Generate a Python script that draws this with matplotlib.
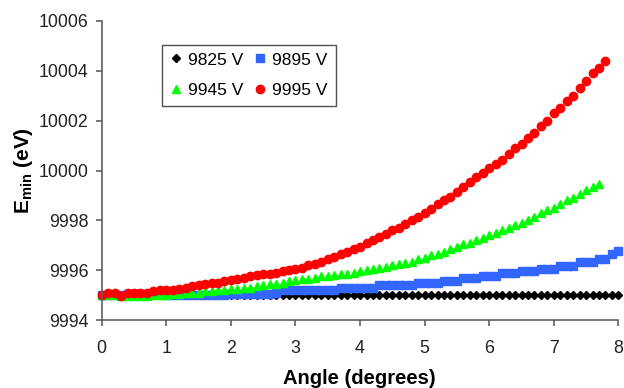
import matplotlib
matplotlib.use("Agg")
import matplotlib.pyplot as plt
import numpy as np

plt.rcParams['font.family'] = ['Liberation Sans', 'DejaVu Sans']
plt.rcParams['mathtext.fontset'] = 'custom'
plt.rcParams['mathtext.rm'] = 'Liberation Sans'
plt.rcParams['mathtext.bf'] = 'Liberation Sans:bold'

# angle grid (degrees), step 0.1
angles = np.round(np.arange(0, 8.05, 0.1), 1)

e_9825 = [9995.0] * 81

e_9895 = ([9995.0] * 4 + [9995.05] * 6 + [9995.0] * 10 + [9995.05] * 7 + [9995.1]
          + [9995.2] * 9 + [9995.3] * 6 + [9995.4] * 6 + [9995.5] * 4
          + [9995.57] * 3 + [9995.68] * 3 + [9995.78] * 3 + [9995.87] * 3
          + [9995.97] * 3 + [9996.06] * 3 + [9996.18] * 3 + [9996.32] * 3
          + [9996.46] * 2 + [9996.65, 9996.78])

e_9945 = [9995.0, 9995.0, 9995.0, 9994.95, 9994.95, 9994.95, 9994.95, 9994.95, 9995.0, 9995.0,
          9995.0, 9995.05, 9995.05, 9995.1, 9995.1, 9995.1, 9995.15, 9995.15, 9995.2, 9995.2,
          9995.25, 9995.25, 9995.3, 9995.3, 9995.35, 9995.4, 9995.45, 9995.45, 9995.5, 9995.55,
          9995.6, 9995.65, 9995.65, 9995.7, 9995.75, 9995.75, 9995.8, 9995.85, 9995.85, 9995.9,
          9995.95, 9996.0, 9996.05, 9996.1, 9996.15, 9996.2, 9996.25, 9996.3, 9996.35, 9996.45,
          9996.5, 9996.6, 9996.65, 9996.75, 9996.85, 9996.95, 9997.05, 9997.1, 9997.2, 9997.3,
          9997.4, 9997.5, 9997.6, 9997.7, 9997.8, 9997.9, 9998.0, 9998.15, 9998.3, 9998.4,
          9998.5, 9998.65, 9998.8, 9998.9, 9999.05, 9999.2, 9999.35, 9999.45]

e_9995 = [9995.0, 9995.1, 9995.1, 9994.95, 9995.1, 9995.1, 9995.1, 9995.1, 9995.15, 9995.2,
          9995.2, 9995.2, 9995.25, 9995.3, 9995.35, 9995.4, 9995.45, 9995.5, 9995.5, 9995.55,
          9995.6, 9995.65, 9995.7, 9995.75, 9995.8, 9995.85, 9995.85, 9995.9, 9995.95, 9996.0,
          9996.05, 9996.1, 9996.2, 9996.25, 9996.35, 9996.45, 9996.55, 9996.65, 9996.75, 9996.85,
          9996.95, 9997.1, 9997.2, 9997.35, 9997.45, 9997.6, 9997.7, 9997.85, 9998.0, 9998.15,
          9998.3, 9998.45, 9998.65, 9998.8, 9998.95, 9999.15, 9999.35, 9999.55, 9999.75, 9999.92,
          10000.1, 10000.28, 10000.42, 10000.68, 10000.9, 10001.08, 10001.3, 10001.5, 10001.8, 10002.0,
          10002.3, 10002.5, 10002.8, 10003.0, 10003.3, 10003.6, 10003.9, 10004.1, 10004.4]

fig = plt.figure(figsize=(6.24, 3.88), dpi=100)
ax = fig.add_axes([0.163, 0.175, 0.828, 0.771])

l1, = ax.plot(angles[:len(e_9825)], e_9825, 'D', color='black', ms=3.6, ls='none', clip_on=False)
l2, = ax.plot(angles[:len(e_9895)], e_9895, 's', color='#3366ff', ms=5.8, ls='none', clip_on=False)
l3, = ax.plot(angles[:len(e_9945)], e_9945, '^', color='#00ff00', ms=6.0, ls='none', clip_on=False)
l4, = ax.plot(angles[:len(e_9995)], e_9995, 'o', color='#ff0000', ms=6.0, ls='none', clip_on=False)

ax.set_xlim(0, 8)
ax.set_ylim(9994, 10006)
ax.set_xticks(range(0, 9))
ax.set_yticks(range(9994, 10007, 2))
ax.yaxis.set_major_formatter(matplotlib.ticker.FormatStrFormatter('%d'))

for s in ['top', 'right']:
    ax.spines[s].set_visible(False)
for s in ['left', 'bottom']:
    ax.spines[s].set_color('#606060')
    ax.spines[s].set_linewidth(1.2)
ax.tick_params(axis='both', colors='#606060', labelcolor='#222222', labelsize=12.8, length=4.5, width=1.2)
ax.tick_params(axis='x', pad=10)
ax.tick_params(axis='y', pad=5)

ax.set_xlabel('Angle (degrees)', fontsize=14.5, fontweight='bold')
ax.set_ylabel(r'$\mathbf{E_{min}}$ (eV)', fontsize=15, fontweight='bold')
ax.xaxis.set_label_coords(0.498, -0.163)
ax.yaxis.set_label_coords(-0.13, 0.5)

leg = ax.legend([l1, l3, l2, l4], ['9825 V', '9945 V', '9895 V', '9995 V'],
                ncol=2, loc='upper left', bbox_to_anchor=(0.117, 0.921), borderaxespad=0,
                fontsize=12.5, fancybox=False, framealpha=1, edgecolor='#505050',
                handlelength=0.7, handletextpad=0.35, columnspacing=0.6,
                labelspacing=0.9, borderpad=0.45, markerscale=1.0)
leg.get_frame().set_linewidth(1.0)

fig.savefig('out.png', dpi=100)
